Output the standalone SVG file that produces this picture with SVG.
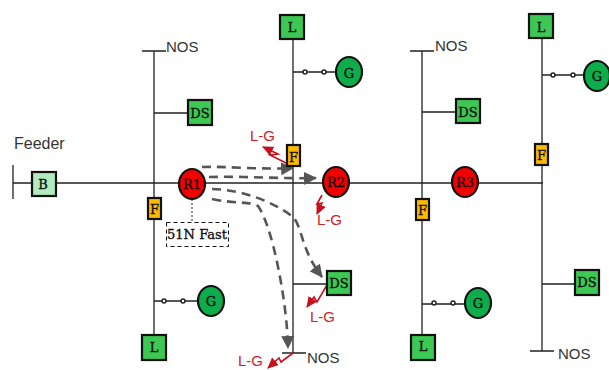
<svg xmlns="http://www.w3.org/2000/svg" width="609" height="370" viewBox="0 0 609 370">
<style>
.w{stroke:#222;stroke-width:1.3;fill:none}
.n{stroke:#111;stroke-width:2.2}
.sq{fill:#3cc853}
.b{fill:#b0eabd}
.f{fill:#fdb900}
.r{fill:#f20000}
.g{fill:#0cad4a}
.sw{fill:#fff;stroke:#222;stroke-width:1.5}
.l{font-family:"DejaVu Serif","Liberation Serif",serif;font-size:13px;fill:#111;stroke:#111;stroke-width:.35;text-anchor:middle}
.s{font-family:"Liberation Sans",Arial,sans-serif;font-size:15px;fill:#333}
.e{font-family:"Liberation Sans",Arial,sans-serif;font-size:15px;fill:#d0202a}
.d{fill:none;stroke:#555;stroke-width:2.6;stroke-dasharray:9 6}
.z{fill:none;stroke:#c8101c;stroke-width:1.6}
</style>
<defs>
<marker id="da" markerUnits="userSpaceOnUse" markerWidth="14" markerHeight="14" refX="12" refY="7" orient="auto"><path d="M0 0.500L13 7L0 13.500Z" fill="#555"/></marker>
<marker id="ra" markerUnits="userSpaceOnUse" markerWidth="12" markerHeight="12" refX="10" refY="5.500" orient="auto"><path d="M0 0.500L11 5.500L0 10.500Z" fill="#c8101c"/></marker>
</defs>
<g id="connectors">
<path class="w" d="M13 183H543M13 165V199"/>
<path class="w" d="M154 51V335M142 51H166M154 113H188M154 301H198"/>
<path class="w" d="M293 39V353M282 353H306M293 72H336M293 284H327"/>
<path class="w" d="M422 51V335M410 51H434M422 112H456M422 304H465"/>
<path class="w" d="M542 38V351M530 351H554M542 75H584M542 284H575"/>
<path d="M192 199V222" fill="none" stroke="#222" stroke-width="1" stroke-dasharray="2 2"/>
<path class="d" marker-end="url(#da)" d="M202 167C225 166 265 170 293 168"/>
<path class="d" marker-end="url(#da)" d="M209 177C245 176 285 179 316 178"/>
<path class="d" marker-end="url(#da)" d="M212 189C245 190 275 203 293 217C303 228 300 248 322 277"/>
<path class="d" marker-end="url(#da)" d="M212 199C235 204 250 201 258 206C272 225 287 300 288 348"/>
<path class="z" marker-end="url(#ra)" d="M290 165L270 155L278 154L263 147"/>
<path class="z" marker-end="url(#ra)" d="M322 195L317 204L322 203L317 214"/>
<path class="z" marker-end="url(#ra)" d="M327 285L317 302L314 297L307 307"/>
<path class="z" marker-end="url(#ra)" d="M293 353L281 362L279 358L268 368"/>
</g>
<g id="feeder-label"><text class="s" x="14" y="149" style="font-size:16px">Feeder</text></g>
<g id="b"><rect class="n b" x="32" y="172" width="24" height="24"/><text class="l" x="43" y="189">B</text></g>
<g id="nos1"><text class="s" x="166" y="52">NOS</text></g>
<g id="nos2"><text class="s" x="307" y="363">NOS</text></g>
<g id="nos3"><text class="s" x="435" y="51">NOS</text></g>
<g id="nos4"><text class="s" x="558" y="359">NOS</text></g>
<g id="ds1"><rect class="n sq" x="188" y="100" width="24" height="25"/><text class="l" x="200" y="118">DS</text></g>
<g id="ds2"><rect class="n sq" x="327" y="271" width="24" height="24"/><text class="l" x="339" y="288">DS</text></g>
<g id="ds3"><rect class="n sq" x="456" y="99" width="24" height="24"/><text class="l" x="468" y="117">DS</text></g>
<g id="ds4"><rect class="n sq" x="575" y="270" width="24" height="25"/><text class="l" x="587" y="287">DS</text></g>
<g id="l1"><rect class="n sq" x="142" y="335" width="24" height="25"/><text class="l" x="154" y="352">L</text></g>
<g id="l2"><rect class="n sq" x="280" y="15" width="24" height="24"/><text class="l" x="292" y="32">L</text></g>
<g id="l3"><rect class="n sq" x="411" y="335" width="24" height="25"/><text class="l" x="423" y="351">L</text></g>
<g id="l4"><rect class="n sq" x="529" y="14" width="24" height="24"/><text class="l" x="541" y="32">L</text></g>
<g id="f1"><rect class="n f" x="148" y="198" width="13" height="21"/><text class="l" x="154.500" y="214">F</text></g>
<g id="f2"><rect class="n f" x="287" y="145" width="13" height="21"/><text class="l" x="293.500" y="162">F</text></g>
<g id="f3"><rect class="n f" x="416" y="199" width="13" height="21"/><text class="l" x="422.500" y="215">F</text></g>
<g id="f4"><rect class="n f" x="535" y="144" width="13" height="21"/><text class="l" x="541.500" y="160">F</text></g>
<g id="r1"><ellipse class="n r" cx="192" cy="184" rx="13" ry="15"/><text class="l" x="192" y="189">R1</text></g>
<g id="r2"><ellipse class="n r" cx="336" cy="182" rx="13" ry="15"/><text class="l" x="336" y="187">R2</text></g>
<g id="r3"><ellipse class="n r" cx="465" cy="182" rx="13" ry="15"/><text class="l" x="465" y="187">R3</text></g>
<g id="g1"><circle class="sw" cx="164" cy="301" r="2"/><circle class="sw" cx="183" cy="301" r="2"/><ellipse class="n g" cx="211" cy="301" rx="13" ry="15"/><text class="l" x="211" y="306">G</text></g>
<g id="g2"><circle class="sw" cx="305" cy="72" r="2"/><circle class="sw" cx="324" cy="72" r="2"/><ellipse class="n g" cx="349" cy="72" rx="13" ry="15"/><text class="l" x="349" y="78">G</text></g>
<g id="g3"><circle class="sw" cx="434" cy="303" r="2"/><circle class="sw" cx="453" cy="303" r="2"/><ellipse class="n g" cx="478" cy="303" rx="13" ry="15"/><text class="l" x="478" y="308">G</text></g>
<g id="g4"><circle class="sw" cx="553" cy="75" r="2"/><circle class="sw" cx="573" cy="75" r="2"/><ellipse class="n g" cx="597" cy="76" rx="13" ry="15"/><text class="l" x="597" y="81">G</text></g>
<g id="fast"><rect x="166.500" y="222.500" width="62" height="24" fill="#fff" stroke="#111" stroke-dasharray="4 3"/><text class="l" x="197" y="239" textLength="60" lengthAdjust="spacingAndGlyphs">51N Fast</text></g>
<g id="faults"><text class="e" x="250" y="141">L-G</text><text class="e" x="317" y="225">L-G</text><text class="e" x="310" y="322">L-G</text><text class="e" x="238" y="366">L-G</text></g>
</svg>
